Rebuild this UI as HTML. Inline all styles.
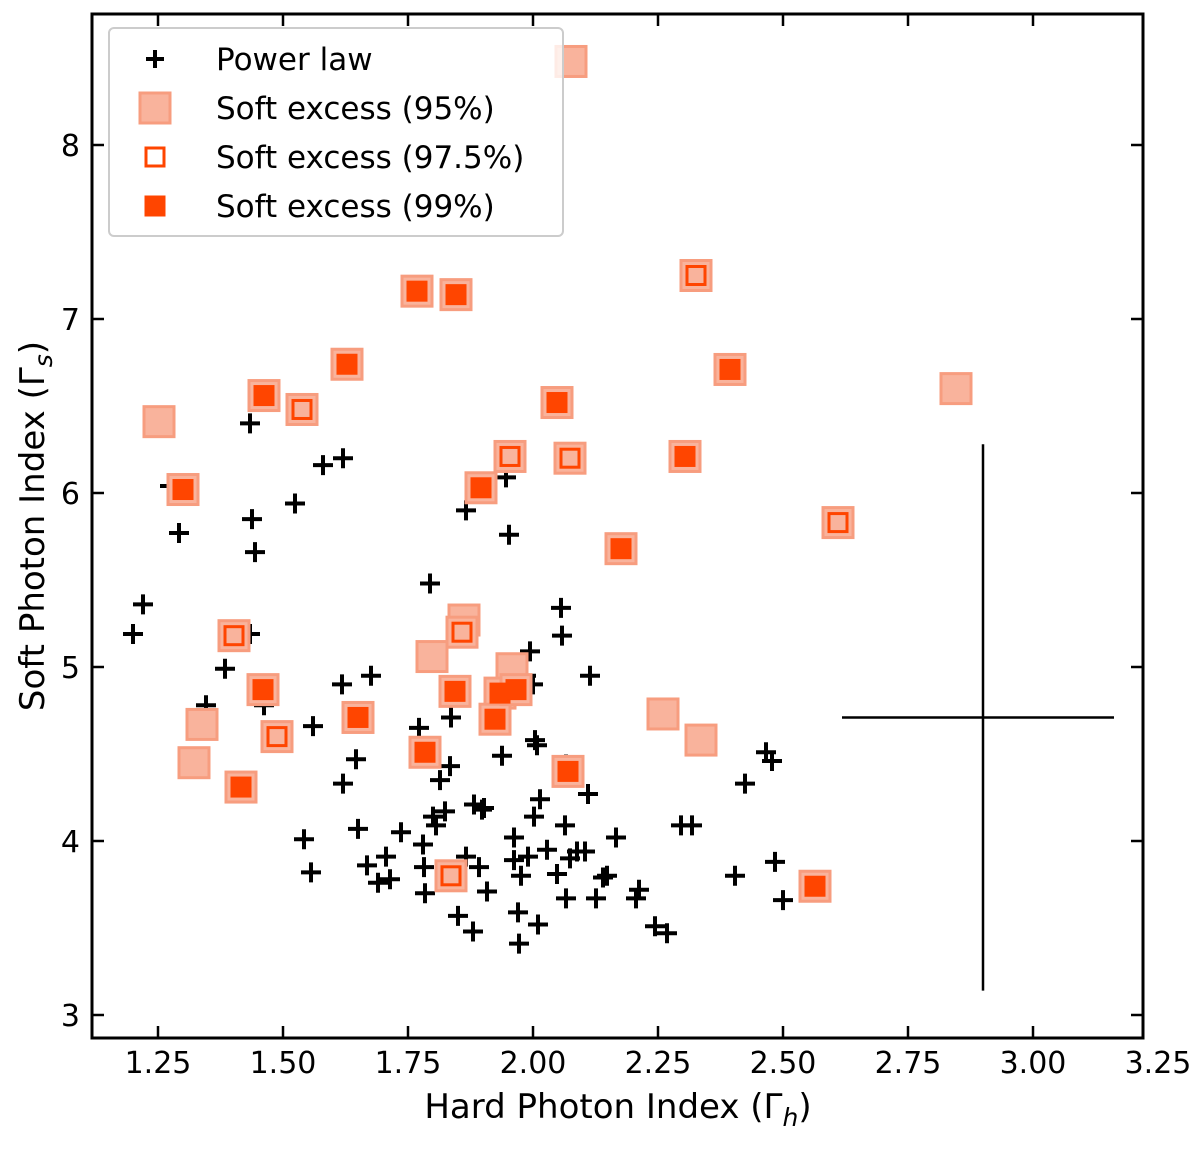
<!DOCTYPE html>
<html><head><meta charset="utf-8"><style>
body{margin:0;background:#fff;}
svg text{font-family:"DejaVu Sans","Liberation Sans",sans-serif;fill:#000;}
</style></head><body>
<svg id="chart" width="1200" height="1144" xmlns="http://www.w3.org/2000/svg">
<g id="marks"></g>
<g id="axes"></g>
</svg>
<script>
const plX=[1.20,1.22,1.274,1.292,1.346,1.384,1.434,1.438,1.444,1.434,1.462,1.524,1.542,1.556,1.58,1.62,1.618,1.676,1.56,1.62,1.646,1.65,1.668,1.69,1.706,1.714,1.736,1.772,1.78,1.782,1.784,1.794,1.80,1.806,1.814,1.834,1.836,1.824,1.85,1.866,1.866,1.88,1.882,1.892,1.898,1.902,1.908,1.938,1.946,1.952,1.962,1.962,1.97,1.972,1.976,1.986,1.99,1.994,2.002,2.004,2.008,2.01,2.014,2.028,2.048,2.058,2.056,2.066,2.066,2.064,2.074,2.088,2.104,2.11,2.114,2.126,2.14,2.148,2.166,2.206,2.212,2.244,2.268,2.296,2.318,2.404,2.424,2.466,2.478,2.484,2.50,2.00];
const plY=[5.19,5.36,6.04,5.77,4.78,4.99,6.40,5.85,5.66,5.19,4.78,5.94,4.01,3.82,6.16,6.20,4.90,4.95,4.66,4.33,4.47,4.07,3.86,3.76,3.91,3.78,4.05,4.65,3.98,3.85,3.70,5.48,4.14,4.09,4.35,4.43,4.71,4.17,3.57,5.90,3.91,3.48,4.21,3.85,4.18,4.19,3.71,4.49,6.09,5.76,4.02,3.89,3.59,3.41,3.80,4.95,3.91,5.09,4.14,4.58,4.55,3.52,4.24,3.95,3.81,5.18,5.34,3.67,4.44,4.09,3.90,3.94,3.94,4.27,4.95,3.67,3.79,3.80,4.02,3.67,3.72,3.51,3.47,4.09,4.09,3.80,4.33,4.51,4.46,3.88,3.66,4.90];
const s95X=[2.076,1.252,1.30,1.402,1.338,1.322,1.416,1.462,1.46,1.488,1.538,1.628,1.65,1.768,1.846,1.798,1.862,1.858,1.844,1.784,1.836,1.896,1.954,1.958,1.934,1.924,1.966,2.048,2.074,2.07,2.176,2.26,2.336,2.326,2.394,2.304,2.61,2.846,2.564];
const s95Y=[8.48,6.41,6.02,5.18,4.67,4.45,4.31,6.56,4.87,4.60,6.48,6.74,4.71,7.16,7.14,5.06,5.27,5.20,4.86,4.51,3.80,6.03,6.21,4.99,4.85,4.70,4.87,6.52,6.20,4.40,5.68,4.73,4.58,7.25,6.71,6.21,5.83,6.60,3.74];
const s975X=[1.402,1.488,1.538,1.858,1.954,2.074,2.326,2.61,1.836];
const s975Y=[5.18,4.60,6.48,5.20,6.21,6.20,7.25,5.83,3.80];
const s99X=[1.30,1.416,1.462,1.46,1.628,1.65,1.768,1.846,1.844,1.784,1.896,1.934,1.924,1.966,2.048,2.07,2.176,2.394,2.304,2.564];
const s99Y=[6.02,4.31,6.56,4.87,6.74,4.71,7.16,7.14,4.86,4.51,6.03,4.85,4.70,4.87,6.52,4.40,5.68,6.71,6.21,3.74];
const xTicks=[1.25,1.50,1.75,2.00,2.25,2.50,2.75,3.00,3.25];
const yTicks=[3,4,5,6,7,8];
const errCenter=[2.90,4.71];
const errSize=[0.272,1.57];

const L=92,R=1143,T=14,B=1038;
const sx=v=>158+(v-1.25)*500;
const sy=v=>145+(8-v)*174;
const NS="http://www.w3.org/2000/svg";
const marks=document.getElementById('marks'),axes=document.getElementById('axes');
function mk(tag,attrs,parent){const e=document.createElementNS(NS,tag);for(const k in attrs)e.setAttribute(k,attrs[k]);parent.appendChild(e);return e;}

let e1=mk('line',{x1:sx(errCenter[0]-errSize[0])-5,x2:sx(errCenter[0]+errSize[0])-5,y1:sy(errCenter[1]),y2:sy(errCenter[1]),stroke:'#000','stroke-width':2.5},marks);


let e2=mk('line',{x1:sx(errCenter[0]),x2:sx(errCenter[0]),y1:sy(errCenter[1]+errSize[1]),y2:sy(errCenter[1]-errSize[1]),stroke:'#000','stroke-width':2.5},marks);



function plus(x,y,parent,s){return mk('path',{d:`M${x-s} ${y}H${x+s}M${x} ${y-s}V${y+s}`,stroke:'#000','stroke-width':4},parent);}
plX.forEach((v,i)=>{const p=plus(sx(v),sy(plY[i]),marks,10);

});
function sq95(x,y,parent){return mk('rect',{x:x-15,y:y-15,width:30,height:30,fill:'#f9b39c',stroke:'#f79d7f','stroke-width':3},parent);}
function sq975(x,y,parent){return mk('rect',{x:x-9,y:y-9,width:18,height:18,fill:'#f9b39c',stroke:'#ff4500','stroke-width':3},parent);}
function sq99(x,y,parent){return mk('rect',{x:x-10,y:y-10,width:20,height:20,fill:'#ff4500',stroke:'#ff4500','stroke-width':1},parent);}
s95X.forEach((v,i)=>{const r=sq95(sx(v),sy(s95Y[i]),marks);

});
s975X.forEach((v,i)=>{const r=sq975(sx(v),sy(s975Y[i]),marks);

});
s99X.forEach((v,i)=>{const r=sq99(sx(v),sy(s99Y[i]),marks);

});

let fr=mk('rect',{x:L,y:T,width:R-L,height:B-T,fill:'none',stroke:'#000','stroke-width':3},axes);


xTicks.forEach(v=>{const x=sx(v);
if(x<R){
mk('line',{x1:x,x2:x,y1:B,y2:B-12,stroke:'#000','stroke-width':2.5},axes);
mk('line',{x1:x,x2:x,y1:T,y2:T+12,stroke:'#000','stroke-width':2.5},axes);}
const t=mk('text',{x:x,y:B+35,'text-anchor':'middle','font-size':30},axes);t.textContent=v.toFixed(2);

});
yTicks.forEach(v=>{const y=sy(v);
mk('line',{x1:L,x2:L+12,y1:y,y2:y,stroke:'#000','stroke-width':2.5},axes);
mk('line',{x1:R,x2:R-12,y1:y,y2:y,stroke:'#000','stroke-width':2.5},axes);
const t=mk('text',{x:L-12,y:y+11,'text-anchor':'end','font-size':30},axes);t.textContent=v;

});
let xl=mk('text',{x:618,y:1118,'text-anchor':'middle','font-size':34},axes);
xl.innerHTML='Hard Photon Index (Γ<tspan font-style="italic" font-size="25" dy="8">h</tspan><tspan dy="-8">)</tspan>';


let yl=mk('text',{x:0,y:0,'text-anchor':'middle','font-size':34,transform:'translate(44,526) rotate(-90)'},axes);
yl.innerHTML='Soft Photon Index (Γ<tspan font-style="italic" font-size="25" dy="8">s</tspan><tspan dy="-8">)</tspan>';



const lg=mk('g',{},axes);


mk('rect',{x:109,y:28,width:454,height:208,rx:5,fill:'#fff','fill-opacity':0.8,stroke:'#ccc','stroke-width':2},lg);
const labels=['Power law','Soft excess (95%)','Soft excess (97.5%)','Soft excess (99%)'];
labels.forEach((s,i)=>{const y=59+i*49;
if(i==0)plus(155,y,lg,9);
if(i==1)sq95(155,y,lg);
if(i==2)sq975(155,y,lg).setAttribute('fill','#fff');
if(i==3)sq99(155,y,lg);
const t=mk('text',{x:216,y:y+11,'font-size':31},lg);t.textContent=s;

});
</script>
</body></html>
